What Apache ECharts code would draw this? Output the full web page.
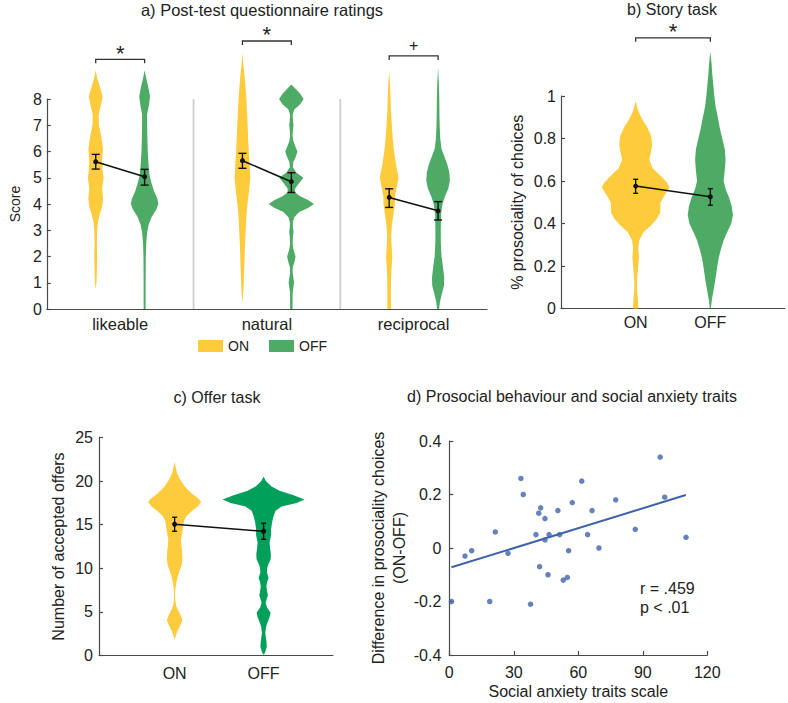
<!DOCTYPE html>
<html><head><meta charset="utf-8">
<script src="https://cdn.jsdelivr.net/npm/echarts@6/dist/echarts.min.js"></script>
<style>html,body{margin:0;padding:0;background:#fff}#c{width:788px;height:703px}</style>
</head><body><div id="c"></div>
<script>
// ================= DATA =================
// Panel a) Post-test questionnaire ratings
const catA = ['likeable', 'natural', 'reciprocal'];
const conds = ['ON', 'OFF'];
const meanA_ON  = [5.61, 5.65, 4.25];
const lowA_ON   = [5.33, 5.36, 3.87];
const highA_ON  = [5.89, 5.93, 4.58];
const meanA_OFF = [5.04, 4.85, 3.74];
const lowA_OFF  = [4.72, 4.44, 3.39];
const highA_OFF = [5.32, 5.19, 4.09];
const sigA = ['*', '*', '+'];
const sigA_level = [9.51, 10.21, 9.64];

// violin density profiles: [score, density]
const vioA_likeable_ON = [[9.1,0],[8.8,1.5],[8.5,4],[8.1,7],[7.8,5.5],[7.4,3],[7.0,3.3],[6.6,5.5],[6.1,7.5],[5.7,6.5],[5.3,7],[5.0,8],[4.6,6.5],[4.2,7.5],[3.9,6.5],[3.6,4],[3.3,2.2],[3.0,1.5],[2.5,1.2],[2.0,1.5],[1.5,1.2],[1.0,0.8],[0.75,0]];
const vioA_likeable_OFF = [[9.1,0],[8.8,1.5],[8.5,3.5],[8.1,5.5],[7.8,4.5],[7.4,2.5],[7.0,2.6],[6.5,2.8],[6.0,3.2],[5.5,4],[5.1,5],[4.8,7],[4.5,9.5],[4.2,13],[4.0,14],[3.8,12],[3.5,7],[3.2,4],[2.9,2.5],[2.5,1.6],[2.0,1.2],[1.0,1],[0,1]];
const vioA_natural_ON = [[9.75,0],[9.3,1],[9.0,1.8],[8.5,3],[8.0,4],[7.5,4.7],[7.0,5.3],[6.5,5.8],[6.0,6.5],[5.5,7.3],[5.0,8],[4.6,7],[4.2,5.8],[3.8,4.6],[3.4,3.8],[3.0,3.3],[2.5,2.7],[2.0,2.2],[1.5,1.8],[1.0,1.3],[0.6,0.8],[0.25,0]];
const vioA_natural_OFF = [[8.55,0],[8.4,4],[8.2,9],[8.0,12.5],[7.8,9],[7.6,3],[7.4,1.3],[7.2,1.6],[7.0,2.2],[6.8,1.6],[6.6,1.2],[6.4,2],[6.2,4],[6.0,6.2],[5.8,4.5],[5.6,2],[5.4,1.5],[5.2,5],[5.0,12.3],[4.8,8],[4.6,4],[4.45,3.5],[4.3,9],[4.15,17],[4.0,23],[3.85,17],[3.7,8],[3.5,3],[3.3,1.5],[3.1,1.6],[2.95,2.2],[2.75,1.6],[2.5,1.3],[2.3,2],[2.1,3.5],[2.0,4.3],[1.8,3.2],[1.6,1.5],[1.4,1.3],[1.2,2],[1.0,2.8],[0.8,2],[0.6,1.3],[0.3,1.3],[0,1.2]];
const vioA_reciprocal_ON = [[9.05,0],[8.6,0.8],[8.2,1.3],[7.6,1.8],[7.0,2.7],[6.5,3.6],[6.0,5],[5.5,7],[5.0,9.5],[4.6,7.5],[4.3,6],[4.0,5.8],[3.6,4.3],[3.2,2.8],[2.8,2],[2.4,2.5],[2.0,3.2],[1.6,2.5],[1.2,1.9],[0.6,1.8],[0,1.8]];
const vioA_reciprocal_OFF = [[9.2,0],[8.6,0.8],[8.0,1.2],[7.4,1.4],[7.0,1.6],[6.5,2.2],[6.1,3.5],[5.8,6.5],[5.5,9.5],[5.2,11.5],[4.9,12],[4.6,10.5],[4.3,7],[4.0,4.5],[3.6,3],[3.0,2.7],[2.5,2.8],[2.0,3.5],[1.6,5],[1.2,6.2],[0.9,6],[0.6,4],[0.3,2],[0,1]];

// Panel b) Story task
const meanB = [0.576, 0.526];
const lowB  = [0.542, 0.486];
const highB = [0.608, 0.564];
const sigB = '*';
const sigB_level = 1.274;
const vioB_ON = [[0.975,0],[0.93,2.5],[0.89,6.7],[0.85,12],[0.81,15.7],[0.77,16.5],[0.74,15.5],[0.70,13.7],[0.66,17],[0.62,26],[0.59,32],[0.57,34],[0.54,30],[0.50,25],[0.45,24.5],[0.42,21],[0.39,15],[0.36,8],[0.32,3.5],[0.28,2.6],[0.24,3.3],[0.2,2.6],[0.16,1.8],[0.12,1.3],[0.08,1.5],[0.04,2.3],[0,2.7]];
const vioB_OFF = [[1.21,0],[1.15,1.3],[1.1,2],[1.0,4],[0.95,5.3],[0.9,7.5],[0.85,9.5],[0.8,12],[0.75,14.5],[0.7,15.3],[0.65,14.5],[0.6,13.3],[0.56,15.5],[0.52,19],[0.48,21.5],[0.44,22.7],[0.4,21],[0.36,17],[0.32,13.3],[0.28,10.7],[0.24,8.5],[0.2,7],[0.16,5.8],[0.12,4.5],[0.08,3],[0.04,1.5],[0,0.5]];

// Panel c) Offer task
const meanC = [15.06, 14.25];
const lowC  = [14.25, 13.33];
const highC = [15.86, 15.17];
const vioC_ON = [[22.2,0],[21.5,1.3],[20.9,2.5],[20.2,5.5],[19.4,10],[18.6,17],[18.0,24],[17.6,26.5],[17.1,23],[16.6,17.5],[16.0,12],[15.5,9.5],[14.8,8.5],[14.0,7.5],[13.3,6.3],[12.6,6.8],[11.8,7.5],[11.0,7.8],[10.3,6.8],[9.6,4.5],[9.0,3],[8.4,1.8],[7.7,0.8],[7.0,0.5],[6.3,0.7],[5.7,1.5],[5.2,3.3],[4.6,6],[4.0,7.8],[3.4,5.5],[2.8,2.8],[2.3,1.3],[1.8,0]];
const vioC_OFF = [[20.5,0],[20.0,2.5],[19.4,8],[18.9,16],[18.4,30],[17.9,41],[17.5,33],[17.1,18],[16.6,12],[16.0,10],[15.3,8.5],[14.5,7.5],[13.8,7.5],[13.0,6],[12.3,6.5],[11.6,7.3],[11.0,7],[10.4,4.5],[10.0,3.5],[9.5,3.3],[8.9,5],[8.4,3.5],[7.9,2.8],[7.4,3.5],[6.9,4.3],[6.4,3],[6.0,2],[5.5,3.5],[4.9,7],[4.4,6],[3.8,4],[3.3,2.5],[2.6,1.7],[2.1,2.2],[1.6,2.8],[1.0,3.2],[0.5,2],[0.1,0.5]];

// Panel d) Prosocial behaviour and social anxiety traits
const anxiety = [1, 7.3, 10.4, 18.8, 21.4, 27.3, 33.3, 34.4, 37.8, 40.3, 41.6, 42.0, 42.5, 44.5, 44.5, 45.9, 46.4, 50.5, 51.3, 53.0, 54.9, 55.5, 57.2, 61.6, 64.3, 66.4, 69.6, 77.4, 86.5, 98.1, 100.2, 110.1];
const diffOnOff = [-0.20, -0.03, -0.01, -0.20, 0.06, -0.02, 0.26, 0.20, -0.21, 0.05, 0.13, -0.07, 0.15, 0.11, 0.03, -0.10, 0.05, 0.14, 0.05, -0.12, -0.11, -0.01, 0.17, 0.25, 0.05, 0.14, 0.00, 0.18, 0.07, 0.34, 0.19, 0.04];
const fitX = [1, 110];
const fitY = [-0.072, 0.198];
const statsText = ['r = .459', 'p < .01'];

// ================= STYLE =================
const FONT = "'Liberation Sans', Arial, Helvetica, sans-serif";
const yellow = '#FDCB3B', greenAB = '#4DAB66', greenC = '#00A05B', blue = '#3E63AA';
const axisColor = '#4a4a4a', textColor = '#222';
const FS = 16;

const chart = echarts.init(document.getElementById('c'), null, {renderer: 'svg'});

function axisBase(extra) {
  return Object.assign({
    type: 'value',
    axisLine: {show: true, onZero: false, lineStyle: {color: axisColor, width: 1.2}},
    axisTick: {show: false},
    splitLine: {show: false},
    nameTextStyle: {color: textColor, fontSize: FS, fontFamily: FONT},
    nameLocation: 'middle'
  }, extra);
}
const lab = (extra) => Object.assign({color: textColor, fontSize: FS, fontFamily: FONT}, extra);
const tickIn = {show: true, inside: true, length: 4, lineStyle: {color: axisColor, width: 1.2}};

function violinSeries(xi, centers, profiles, scale, color, name) {
  return {
    type: 'custom', name, xAxisIndex: xi, yAxisIndex: xi, clip: false, silent: true, z: 2,
    data: centers.map((c, i) => [c, i]),
    encode: {x: 0, y: 1},
    renderItem: (params, api) => {
      const cx = api.value(0);
      const prof = profiles[params.dataIndex];
      const right = prof.map(p => api.coord([cx + p[1] * scale, p[0]]));
      const left = prof.slice().reverse().map(p => api.coord([cx - p[1] * scale, p[0]]));
      return {type: 'polygon', shape: {points: right.concat(left)}, style: {fill: color}};
    }
  };
}
function errorSeries(xi, xs, lows, highs, cap) {
  return {
    type: 'custom', xAxisIndex: xi, yAxisIndex: xi, clip: false, silent: true, z: 6,
    data: xs.map((x, i) => [x, lows[i], highs[i]]),
    encode: {x: 0, y: [1, 2]},
    renderItem: (params, api) => {
      const lo = api.coord([api.value(0), api.value(1)]);
      const hi = api.coord([api.value(0), api.value(2)]);
      const st = {stroke: '#111', lineWidth: 1.4};
      return {type: 'group', children: [
        {type: 'line', shape: {x1: lo[0], y1: lo[1], x2: hi[0], y2: hi[1]}, style: st},
        {type: 'line', shape: {x1: lo[0] - cap, y1: lo[1], x2: lo[0] + cap, y2: lo[1]}, style: st},
        {type: 'line', shape: {x1: hi[0] - cap, y1: hi[1], x2: hi[0] + cap, y2: hi[1]}, style: st}
      ]};
    }
  };
}
function meanLine(xi, pts) {
  return {type: 'line', xAxisIndex: xi, yAxisIndex: xi, data: pts, symbol: 'circle', symbolSize: 5,
    lineStyle: {color: '#111', width: 1.5}, itemStyle: {color: '#111'}, z: 7, silent: true, animation: false};
}
function bracketSeries(xi, pairs, levels, labels) {
  return {
    type: 'custom', xAxisIndex: xi, yAxisIndex: xi, clip: false, silent: true, z: 8,
    data: pairs.map((p, i) => [p[0], p[1], levels[i]]),
    encode: {x: [0, 1], y: 2},
    renderItem: (params, api) => {
      const a = api.coord([api.value(0), api.value(2)]);
      const b = api.coord([api.value(1), api.value(2)]);
      const t = labels[params.dataIndex];
      const star = t === '*';
      return {type: 'group', children: [
        {type: 'polyline', shape: {points: [[a[0], a[1] + 4], a, b, [b[0], b[1] + 4]]}, style: {stroke: '#333', lineWidth: 1.3, fill: null}},
        {type: 'text', x: (a[0] + b[0]) / 2, y: a[1] + (star ? -6 : -10), style: {text: t, fontSize: star ? 22 : 16, fontFamily: FONT, fill: '#222', align: 'center', verticalAlign: 'middle'}}
      ]};
    }
  };
}

const posON_A = catA.map((c, i) => i * 3 + 1);
const posOFF_A = catA.map((c, i) => i * 3 + 2);
const scaleA = 1 / 49.8, scaleB = 1 / 75, scaleC = 1 / 89;

const series = [
  // panel a separators
  ...[1, 2].map(k => ({type: 'line', xAxisIndex: 0, yAxisIndex: 0, data: [[k * 3, 0], [k * 3, 8]], symbol: 'none',
    lineStyle: {color: '#CFCFCF', width: 1.8}, z: 1, silent: true, animation: false})),
  violinSeries(0, posON_A, [vioA_likeable_ON, vioA_natural_ON, vioA_reciprocal_ON], scaleA, yellow, 'ON'),
  violinSeries(0, posOFF_A, [vioA_likeable_OFF, vioA_natural_OFF, vioA_reciprocal_OFF], scaleA, greenAB, 'OFF'),
  errorSeries(0, posON_A, lowA_ON, highA_ON, 4),
  errorSeries(0, posOFF_A, lowA_OFF, highA_OFF, 4),
  ...catA.map((c, i) => meanLine(0, [[posON_A[i], meanA_ON[i]], [posOFF_A[i], meanA_OFF[i]]])),
  bracketSeries(0, catA.map((c, i) => [posON_A[i], posOFF_A[i]]), sigA_level, sigA),
  // panel b
  violinSeries(1, [1], [vioB_ON], scaleB, yellow, 'storyON'),
  violinSeries(1, [2], [vioB_OFF], scaleB, greenAB, 'storyOFF'),
  errorSeries(1, [1, 2], lowB, highB, 2.5),
  meanLine(1, [[1, meanB[0]], [2, meanB[1]]]),
  bracketSeries(1, [[1, 2]], [sigB_level], [sigB]),
  // panel c
  violinSeries(2, [1], [vioC_ON], scaleC, yellow, 'offerON'),
  violinSeries(2, [2], [vioC_OFF], scaleC, greenC, 'offerOFF'),
  errorSeries(2, [1, 2], lowC, highC, 2.5),
  meanLine(2, [[1, meanC[0]], [2, meanC[1]]]),
  // panel d
  {type: 'scatter', xAxisIndex: 3, yAxisIndex: 3, data: anxiety.map((x, i) => [x, diffOnOff[i]]),
    symbolSize: 5.5, itemStyle: {color: blue}, z: 3, silent: true},
  {type: 'line', xAxisIndex: 3, yAxisIndex: 3, data: fitX.map((x, i) => [x, fitY[i]]), symbol: 'none',
    lineStyle: {color: blue, width: 2}, z: 4, silent: true, animation: false}
];

const titleStyle = {fontSize: FS, fontFamily: FONT, fill: textColor, align: 'center', verticalAlign: 'middle'};
const option = {
  animation: false,
  backgroundColor: '#fff',
  textStyle: {fontFamily: FONT},
  grid: [
    {left: 39, top: 99, width: 448, height: 210},
    {left: 561, top: 96, width: 225, height: 212.5},
    {left: 99, top: 437.7, width: 234, height: 217.6},
    {left: 449.3, top: 441, width: 258, height: 214}
  ],
  legend: {
    left: 198, top: 339, padding: 0, itemWidth: 25, itemHeight: 12, itemGap: 20, selectedMode: false,
    textStyle: {color: textColor, fontSize: 14, fontFamily: FONT},
    data: [{name: 'ON', icon: 'rect', itemStyle: {color: yellow}}, {name: 'OFF', icon: 'rect', itemStyle: {color: greenAB}}]
  },
  xAxis: [
    axisBase({gridIndex: 0, min: 0, max: 9, interval: 1.5,
      axisLabel: lab({fontSize: 16.5, margin: 6, formatter: v => { const i = Math.round((v - 1.5) / 3); return (Math.abs(v - (i * 3 + 1.5)) < 1e-6 && catA[i]) ? catA[i] : ''; }})}),
    axisBase({gridIndex: 1, min: 0, max: 3, interval: 1,
      axisLabel: lab({margin: 6, formatter: v => conds[Math.round(v) - 1] && Math.abs(v - Math.round(v)) < 1e-6 ? conds[Math.round(v) - 1] : ''})}),
    axisBase({gridIndex: 2, min: 0.15, max: 2.78,
      axisLabel: lab({margin: 10, customValues: [1, 2], formatter: v => conds[Math.round(v) - 1] || ''})}),
    axisBase({gridIndex: 3, min: 0, max: 120, interval: 30, axisTick: tickIn,
      axisLabel: lab({margin: 9}), name: 'Social anxiety traits scale', nameGap: 28})
  ],
  yAxis: [
    axisBase({gridIndex: 0, min: 0, max: 8, interval: 1, axisTick: tickIn, axisLabel: lab({margin: 5}),
      name: 'Score', nameGap: 23, nameTextStyle: {color: textColor, fontSize: 14, fontFamily: FONT}}),
    axisBase({gridIndex: 1, min: 0, max: 1, interval: 0.2, axisTick: tickIn, axisLabel: lab({margin: 5}),
      name: '% prosociality of choices', nameGap: 36}),
    axisBase({gridIndex: 2, min: 0, max: 25, interval: 5, axisTick: tickIn, axisLabel: lab({margin: 6}),
      name: 'Number of accepted offers', nameGap: 33}),
    axisBase({gridIndex: 3, min: -0.4, max: 0.4, interval: 0.2, axisTick: tickIn, axisLabel: lab({margin: 8}),
      name: 'Difference in prosociality choices\n(ON-OFF)', nameGap: 38,
      nameTextStyle: {color: textColor, fontSize: FS, fontFamily: FONT, lineHeight: 21}})
  ],
  graphic: [
    {type: 'text', x: 262, y: 10, style: Object.assign({text: 'a) Post-test questionnaire ratings'}, titleStyle, {fontSize: 16.5})},
    {type: 'text', x: 672, y: 9, style: Object.assign({text: 'b) Story task'}, titleStyle)},
    {type: 'text', x: 217, y: 397, style: Object.assign({text: 'c) Offer task'}, titleStyle)},
    {type: 'text', x: 572, y: 396, style: Object.assign({text: 'd) Prosocial behaviour and social anxiety traits'}, titleStyle)},
    {type: 'text', x: 640, y: 588, style: {text: statsText[0], fontSize: FS, fontFamily: FONT, fill: textColor, align: 'left', verticalAlign: 'middle'}},
    {type: 'text', x: 640, y: 607, style: {text: statsText[1], fontSize: FS, fontFamily: FONT, fill: textColor, align: 'left', verticalAlign: 'middle'}}
  ],
  series
};
chart.setOption(option);
</script>
</body></html>
